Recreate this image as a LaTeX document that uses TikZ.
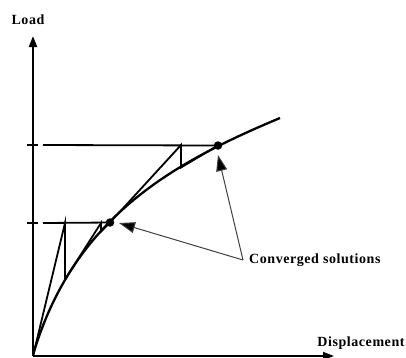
\documentclass[tikz,border=0pt]{standalone}
\usepackage{fontspec}
\setmainfont{Liberation Serif}
\newfontfamily\lblfont[LetterSpace=4]{Liberation Serif}
\usetikzlibrary{arrows.meta}
\tikzset{
  axisline/.style={line width=2.2pt,-{Triangle[length=11pt,width=8pt]}},
  curveline/.style={line width=2.3pt},
  iterline/.style={line width=1.8pt},
  levelline/.style={line width=1.8pt},
  pointer/.style={line width=1pt,draw=black!75,-{Triangle[length=16pt,width=11pt,fill=black]}},
  lbl/.style={font=\lblfont\bfseries\fontsize{14}{16}\selectfont,inner sep=0pt},
  dotmark/.style={circle,fill=black,inner sep=0pt,minimum size=8.5pt}
}
\begin{document}
\begin{tikzpicture}[x=1pt,y=-1pt]
\useasboundingbox (0,0) rectangle (406,357);
% axes
\coordinate (O) at (33,356);
\coordinate (ytop) at (33,36);
\coordinate (xend) at (334,356);
\draw[axisline] (O) -- (ytop);
\draw[line width=1.6pt,-{Triangle[length=11pt,width=8pt]}] (O) -- (xend);
\node[lbl] (load) at (28,20) {Load};
\node[lbl] (disp) at (361,343) {Displacement};
% curve
\coordinate (cs) at (33,355);
\coordinate (ce) at (280,118);
\draw[curveline] (cs) .. controls (73,219) and (170,164) .. (ce);
% load levels
\coordinate (t1a) at (27,223); \coordinate (t1b) at (38,223);
\coordinate (t2a) at (27,145); \coordinate (t2b) at (38,145);
\coordinate (h1) at (43,223); \coordinate (h2) at (43,145);
\node[dotmark] (p1) at (110,222.5) {};
\node[dotmark] (p2) at (218,145.5) {};
\draw[levelline] (t1a) -- (t1b);
\draw[levelline] (t2a) -- (t2b);
\draw[levelline] (h1) -- (p1.center);
\draw[levelline] (h2) -- (p2.center);
% iterations, step 1
\coordinate (a1) at (65,223);
\coordinate (a2) at (65,279.5);
\coordinate (a3) at (101,223);
\coordinate (a4) at (101,231.5);
\draw[iterline] (O) -- (a1) -- (a2) -- (a3) -- (a4) -- (p1.center);
% iterations, step 2
\coordinate (b1) at (181,145);
\coordinate (b2) at (181,167.5);
\draw[iterline] (p1.center) -- (b1) -- (b2) -- (p2.center);
% label and pointers
\node[lbl,anchor=west] (conv) at (249,260) {Converged solutions};
\coordinate (c0) at (243,260);
\draw[pointer] (c0) -- (119,223);
\draw[pointer] (c0) -- (218,155);
\end{tikzpicture}
\end{document}
